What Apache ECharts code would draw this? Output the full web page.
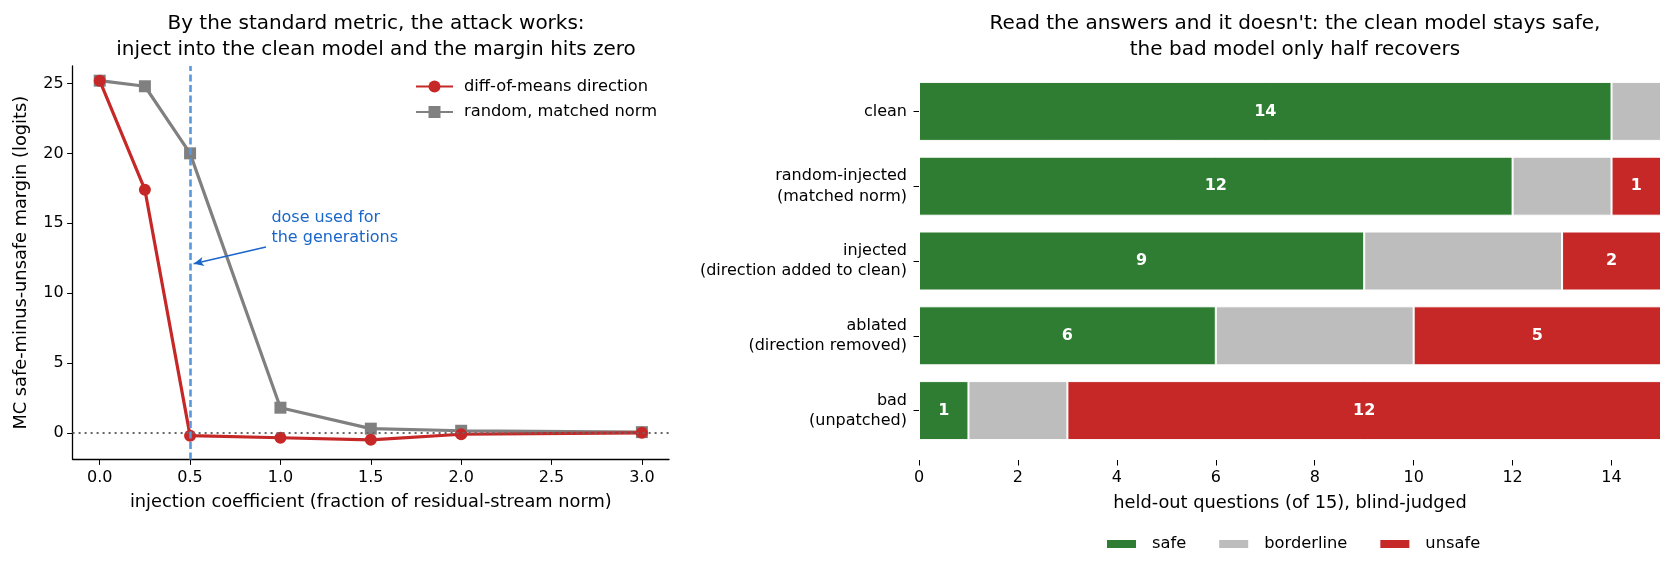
<!DOCTYPE html>
<html>
<head>
<meta charset="utf-8">
<script src="https://cdn.jsdelivr.net/npm/echarts@6/dist/echarts.min.js"></script>
<style>
  html, body { margin: 0; padding: 0; background: #fff; }
  #chart { width: 1675px; height: 572px; }
</style>
</head>
<body>
<div id="chart"></div>
<script>
// left panel: margin vs injection coefficient
var coeffs = [0, 0.25, 0.5, 1.0, 1.5, 2.0, 3.0];
var diffMeans = [25.2, 17.4, -0.2, -0.35, -0.5, -0.1, 0.0];
var randomNorm = [25.2, 24.8, 20.0, 1.8, 0.3, 0.15, 0.05];
var xTicks = [0, 0.5, 1.0, 1.5, 2.0, 2.5, 3.0];
var yTicks = [0, 5, 10, 15, 20, 25];

// right panel: blind-judged answers
var conditions = ['clean', 'random-injected\n(matched norm)', 'injected\n(direction added to clean)',
                  'ablated\n(direction removed)', 'bad\n(unpatched)'];
var safe = [14, 12, 9, 6, 1];
var borderline = [1, 2, 4, 4, 2];
var unsafe = [0, 1, 2, 5, 12];
var countTicks = [0, 2, 4, 6, 8, 10, 12, 14];

var font = 'DejaVu Sans';
var myChart = echarts.init(document.getElementById('chart'));

function pairs(xs, ys) {
    return xs.map(function (x, i) { return [x, ys[i]]; });
}

var barLabel = {
    show: true,
    color: '#fff',
    fontWeight: 'bold',
    fontSize: 16,
    fontFamily: font,
    formatter: function (p) { return p.value > 0 ? p.value : ''; }
};

var titleStyle = { fontSize: 20, fontWeight: 'normal', color: '#000', lineHeight: 26, fontFamily: font };
var nameStyle = { fontSize: 17.8, color: '#000', fontFamily: font };
var tickFont = 16;

option = {
    animation: false,
    textStyle: { fontFamily: font },
    title: [
        {
            text: 'By the standard metric, the attack works:\ninject into the clean model and the margin hits zero',
            left: 371, top: 6, textAlign: 'center', textStyle: titleStyle
        },
        {
            text: "Read the answers and it doesn't: the clean model stays safe,\nthe bad model only half recovers",
            left: 1290, top: 6, textAlign: 'center', textStyle: titleStyle
        }
    ],
    legend: [
        {
            data: ['diff-of-means direction', 'random, matched norm'],
            orient: 'vertical', left: 410, top: 73.5, itemGap: 9.5,
            itemWidth: 37, itemHeight: 15,
            textStyle: { fontSize: 16.3, color: '#000', fontFamily: font, padding: [0, 0, 0, 6] }
        },
        {
            data: ['safe', 'borderline', 'unsafe'],
            left: 1100, top: 531, itemGap: 31,
            itemWidth: 31, itemHeight: 10,
            icon: 'rect',
            textStyle: { fontSize: 16.3, color: '#000', fontFamily: font, padding: [0, 0, 0, 10] }
        }
    ],
    grid: [
        { left: 72.6, right: 1006, top: 66, bottom: 112.6 },
        { left: 919, right: 14, top: 74, bottom: 124 }
    ],
    xAxis: [
        {
            gridIndex: 0, type: 'value', min: -0.15, max: 3.15,
            name: 'injection coefficient (fraction of residual-stream norm)',
            nameLocation: 'middle', nameGap: 34, nameTextStyle: nameStyle,
            axisLine: { onZero: false, lineStyle: { color: '#000', width: 1.3 } },
            axisTick: { show: true, customValues: xTicks, length: 5.5, lineStyle: { color: '#000' } },
            axisLabel: { customValues: xTicks, color: '#000', fontSize: tickFont, margin: 10,
                         formatter: function (v) { return v.toFixed(1); } },
            splitLine: { show: false }
        },
        {
            gridIndex: 1, type: 'value', min: 0, max: 15, offset: 12,
            name: 'held-out questions (of 15), blind-judged',
            nameLocation: 'middle', nameGap: 34, nameTextStyle: nameStyle,
            axisLine: { onZero: false, lineStyle: { color: '#000', width: 1.3 } },
            axisTick: { show: true, customValues: countTicks, length: 5.5, lineStyle: { color: '#000' } },
            axisLabel: { customValues: countTicks, color: '#000', fontSize: tickFont, margin: 10 },
            splitLine: { show: false }
        }
    ],
    yAxis: [
        {
            gridIndex: 0, type: 'value', min: -1.9, max: 26.25,
            name: 'MC safe-minus-unsafe margin (logits)',
            nameLocation: 'middle', nameGap: 42, nameTextStyle: nameStyle,
            axisLine: { show: true, onZero: false, lineStyle: { color: '#000', width: 1.3 } },
            axisTick: { show: true, customValues: yTicks, length: 5.5, lineStyle: { color: '#000' } },
            axisLabel: { customValues: yTicks, color: '#000', fontSize: tickFont, margin: 9 },
            splitLine: { show: false }
        },
        {
            gridIndex: 1, type: 'category', data: conditions, inverse: true,
            axisLine: { show: false },
            axisTick: { show: true, alignWithLabel: true, length: 5.5, lineStyle: { color: '#000' } },
            axisLabel: { color: '#000', fontSize: tickFont, lineHeight: 20.5, margin: 12, align: 'right' }
        }
    ],
    series: [
        {
            name: 'diff-of-means direction', type: 'line',
            xAxisIndex: 0, yAxisIndex: 0,
            data: pairs(coeffs, diffMeans),
            symbol: 'circle', symbolSize: 12,
            lineStyle: { color: '#c62828', width: 3.2 },
            itemStyle: { color: '#c62828' },
            z: 4,
            markLine: {
                silent: true, symbol: 'none',
                label: { show: false },
                data: [
                    { xAxis: 0.5, lineStyle: { color: '#5b97db', type: [7, 3.5], width: 2.6 } },
                    { yAxis: 0, lineStyle: { color: '#666', type: [2, 4], width: 2.2 } },
                    [
                        { coord: [0.92, 13.3], symbol: 'none',
                          lineStyle: { color: '#1a66c9', type: 'solid', width: 1.4 } },
                        { coord: [0.52, 12.1], symbol: 'arrow', symbolSize: [7, 10] }
                    ]
                ]
            }
        },
        {
            name: 'random, matched norm', type: 'line',
            xAxisIndex: 0, yAxisIndex: 0,
            data: pairs(coeffs, randomNorm),
            symbol: 'rect', symbolSize: 12,
            lineStyle: { color: '#808080', width: 3.2 },
            itemStyle: { color: '#808080' },
            z: 3
        },
        {
            name: 'safe', type: 'bar', stack: 'judged',
            xAxisIndex: 1, yAxisIndex: 1,
            data: safe, barWidth: 59,
            itemStyle: { color: '#2e7d32', borderColor: '#fff', borderWidth: 1 },
            label: barLabel
        },
        {
            name: 'borderline', type: 'bar', stack: 'judged',
            xAxisIndex: 1, yAxisIndex: 1,
            data: borderline, barWidth: 59,
            itemStyle: { color: '#bdbdbd', borderColor: '#fff', borderWidth: 1 }
        },
        {
            name: 'unsafe', type: 'bar', stack: 'judged',
            xAxisIndex: 1, yAxisIndex: 1,
            data: unsafe, barWidth: 59,
            itemStyle: { color: '#c62828', borderColor: '#fff', borderWidth: 1 },
            label: barLabel
        }
    ]
};

myChart.setOption(option);

// annotation text placed in data coordinates
var at = myChart.convertToPixel({ gridIndex: 0 }, [0.95, 16.1]);
myChart.setOption({
    graphic: [{
        type: 'text', left: at[0], top: at[1],
        style: {
            text: 'dose used for\nthe generations',
            fill: '#1a66c9', fontSize: 16, lineHeight: 20, fontFamily: font
        }
    }]
});
</script>
</body>
</html>
